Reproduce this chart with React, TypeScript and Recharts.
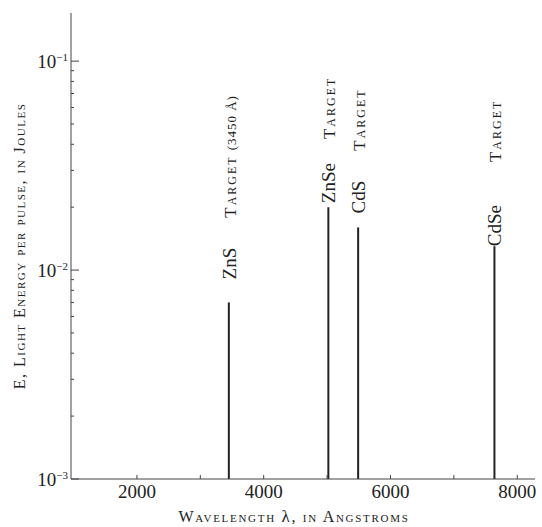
import React from 'react';
import { ComposedChart, XAxis, YAxis, ReferenceLine, Scatter } from 'recharts';

// ---- data ----
const targets = ['ZnS', 'ZnSe', 'CdS', 'CdSe'];
const targetNotes = ['Target', 'Target', 'Target', 'Target'];
const targetWavelengthNotes = ['(3450 Å)', '', '', ''];
const wavelengths = [3450, 5020, 5490, 7640];
const energies = [0.007, 0.02, 0.016, 0.013];

const xTicks = [2000, 3000, 4000, 5000, 6000, 7000, 8000];
const xLabelledTicks = [2000, 4000, 6000, 8000];
const yTicks = [
  0.001, 0.002, 0.003, 0.004, 0.005, 0.006, 0.007, 0.008, 0.009,
  0.01, 0.02, 0.03, 0.04, 0.05, 0.06, 0.07, 0.08, 0.09, 0.1,
];
const yDecades = [0.001, 0.01, 0.1];
const yDecadeExponents = ['\u22123', '\u22122', '\u22121'];

const xTitleParts = ['Wavelength ', '\u03bb', ', in Angstroms'];
const yTitle = 'E, Light Energy per pulse, in Joules';

// ---- style ----
const FONT = '"Liberation Serif", "DejaVu Serif", serif';
const INK = '#222';
const FRAME = '#444';
const labelStartGap = [23, 4, 14, 0];
const labelMidGap = [30, 24, 30, 43];

const X_DOMAIN: [number, number] = [960, 8280];
const Y_DOMAIN: [number, number] = [0.001, 0.17];

const scatterData = targets.map((name, i) => ({
  x: wavelengths[i],
  y: energies[i],
  name,
  note: targetNotes[i],
  wl: targetWavelengthNotes[i],
  i,
}));

const isDecade = (v: number) => yDecades.findIndex((d) => Math.abs(d - v) < 1e-12);

const LeftTick = (props: any) => {
  const { x, y, payload } = props;
  const di = isDecade(payload.value);
  const major = di >= 0;
  return (
    <g>
      <line x1={x} x2={x + (major ? 8 : 3)} y1={y} y2={y} stroke={FRAME} strokeWidth={1} />
      {major && (
        <text x={x - 3} y={y + 7} textAnchor="end" fontFamily={FONT} fontSize={19} fill={INK}>
          10
          <tspan dy={-7} fontSize={11}>
            {yDecadeExponents[di]}
          </tspan>
        </text>
      )}
    </g>
  );
};

const RightTick = (props: any) => {
  const { x, y, payload } = props;
  const major = isDecade(payload.value) >= 0;
  return <line x1={x} x2={x - (major ? 7 : 3)} y1={y} y2={y} stroke={FRAME} strokeWidth={1} />;
};

const BottomTick = (props: any) => {
  const { x, y, payload } = props;
  const labelled = xLabelledTicks.includes(payload.value);
  return (
    <g>
      <line x1={x} x2={x} y1={y} y2={y - 4} stroke={FRAME} strokeWidth={1} />
      {labelled && (
        <text x={x} y={y + 19} textAnchor="middle" fontFamily={FONT} fontSize={19} fill={INK}>
          {payload.value}
        </text>
      )}
    </g>
  );
};

const TopTick = (props: any) => {
  const { x, y } = props;
  return <line x1={x} x2={x} y1={y} y2={y + 4} stroke={FRAME} strokeWidth={1} />;
};

const TargetLabel = (props: any) => {
  const { cx, cy, payload } = props;
  if (cx == null || cy == null) return <g />;
  const i = payload.i;
  const bx = cx + 7;
  const by = cy - labelStartGap[i];
  return (
    <text
      x={bx}
      y={by}
      transform={`rotate(-90 ${bx} ${by})`}
      fontFamily={FONT}
      fill={INK}
    >
      <tspan fontSize={19}>{payload.name}</tspan>
      <tspan dx={labelMidGap[i]} fontSize={17} style={{ fontVariant: 'small-caps' }} letterSpacing={2}>
        {payload.note}
      </tspan>
      {payload.wl && (
        <tspan dx={5} fontSize={13} letterSpacing={1}>
          {payload.wl}
        </tspan>
      )}
    </text>
  );
};

export default function App() {
  return (
    <div style={{ position: 'absolute', left: 0, top: 0, width: 542, height: 527, background: '#fff' }}>
      <ComposedChart width={542} height={527} margin={{ top: 13, right: 7, bottom: 0, left: 0 }}>
        <XAxis
          xAxisId="bottom"
          type="number"
          dataKey="x"
          orientation="bottom"
          domain={X_DOMAIN}
          allowDataOverflow
          ticks={xTicks}
          interval={0}
          tickSize={0}
          tickMargin={0}
          tickLine={false}
          tick={<BottomTick />}
          axisLine={{ stroke: FRAME, strokeWidth: 1 }}
          height={48}
          label={(p: any) => {
            const vb = p.viewBox || { x: 71, y: 479, width: 464 };
            return (
              <text
                x={vb.x + vb.width / 2 - 9}
                y={vb.y + 43}
                textAnchor="middle"
                fontFamily={FONT}
                fontSize={16}
                letterSpacing={1.7}
                fill={INK}
              >
                <tspan style={{ fontVariant: 'small-caps' }}>{xTitleParts[0]}</tspan>
                <tspan fontSize={17}>{xTitleParts[1]}</tspan>
                <tspan style={{ fontVariant: 'small-caps' }}>{xTitleParts[2]}</tspan>
              </text>
            );
          }}
        />
        <XAxis
          xAxisId="top"
          type="number"
          orientation="top"
          domain={X_DOMAIN}
          allowDataOverflow
          ticks={xTicks}
          interval={0}
          tickSize={0}
          tickMargin={0}
          tickLine={false}
          tick={<TopTick />}
          axisLine={{ stroke: FRAME, strokeWidth: 1 }}
          height={0}
        />
        <YAxis
          yAxisId="left"
          type="number"
          scale="log"
          domain={Y_DOMAIN}
          allowDataOverflow
          ticks={yTicks}
          interval={0}
          tickSize={0}
          tickMargin={0}
          tickLine={false}
          tick={<LeftTick />}
          axisLine={{ stroke: FRAME, strokeWidth: 1 }}
          width={71}
          label={(p: any) => {
            const vb = p.viewBox || { x: 0, y: 13, width: 71, height: 466 };
            const cx = vb.x + 25;
            const cy = vb.y + vb.height / 2;
            return (
              <text
                x={cx}
                y={cy}
                transform={`rotate(-90 ${cx} ${cy})`}
                textAnchor="middle"
                fontFamily={FONT}
                fontSize={16}
                letterSpacing={1.5}
                fill={INK}
                style={{ fontVariant: 'small-caps' }}
              >
                {yTitle}
              </text>
            );
          }}
        />
        <YAxis
          yAxisId="right"
          orientation="right"
          type="number"
          scale="log"
          domain={Y_DOMAIN}
          allowDataOverflow
          ticks={yTicks}
          interval={0}
          tickSize={0}
          tickMargin={0}
          tickLine={false}
          tick={<RightTick />}
          axisLine={{ stroke: FRAME, strokeWidth: 1 }}
          width={0}
        />
        {targets.map((name, i) => (
          <ReferenceLine
            key={name}
            xAxisId="bottom"
            yAxisId="left"
            segment={[
              { x: wavelengths[i], y: Y_DOMAIN[0] },
              { x: wavelengths[i], y: energies[i] },
            ]}
            stroke={INK}
            strokeWidth={2}
          />
        ))}
        <Scatter
          xAxisId="bottom"
          yAxisId="left"
          data={scatterData}
          dataKey="y"
          shape={<TargetLabel />}
          isAnimationActive={false}
          legendType="none"
        />
      </ComposedChart>
    </div>
  );
}
